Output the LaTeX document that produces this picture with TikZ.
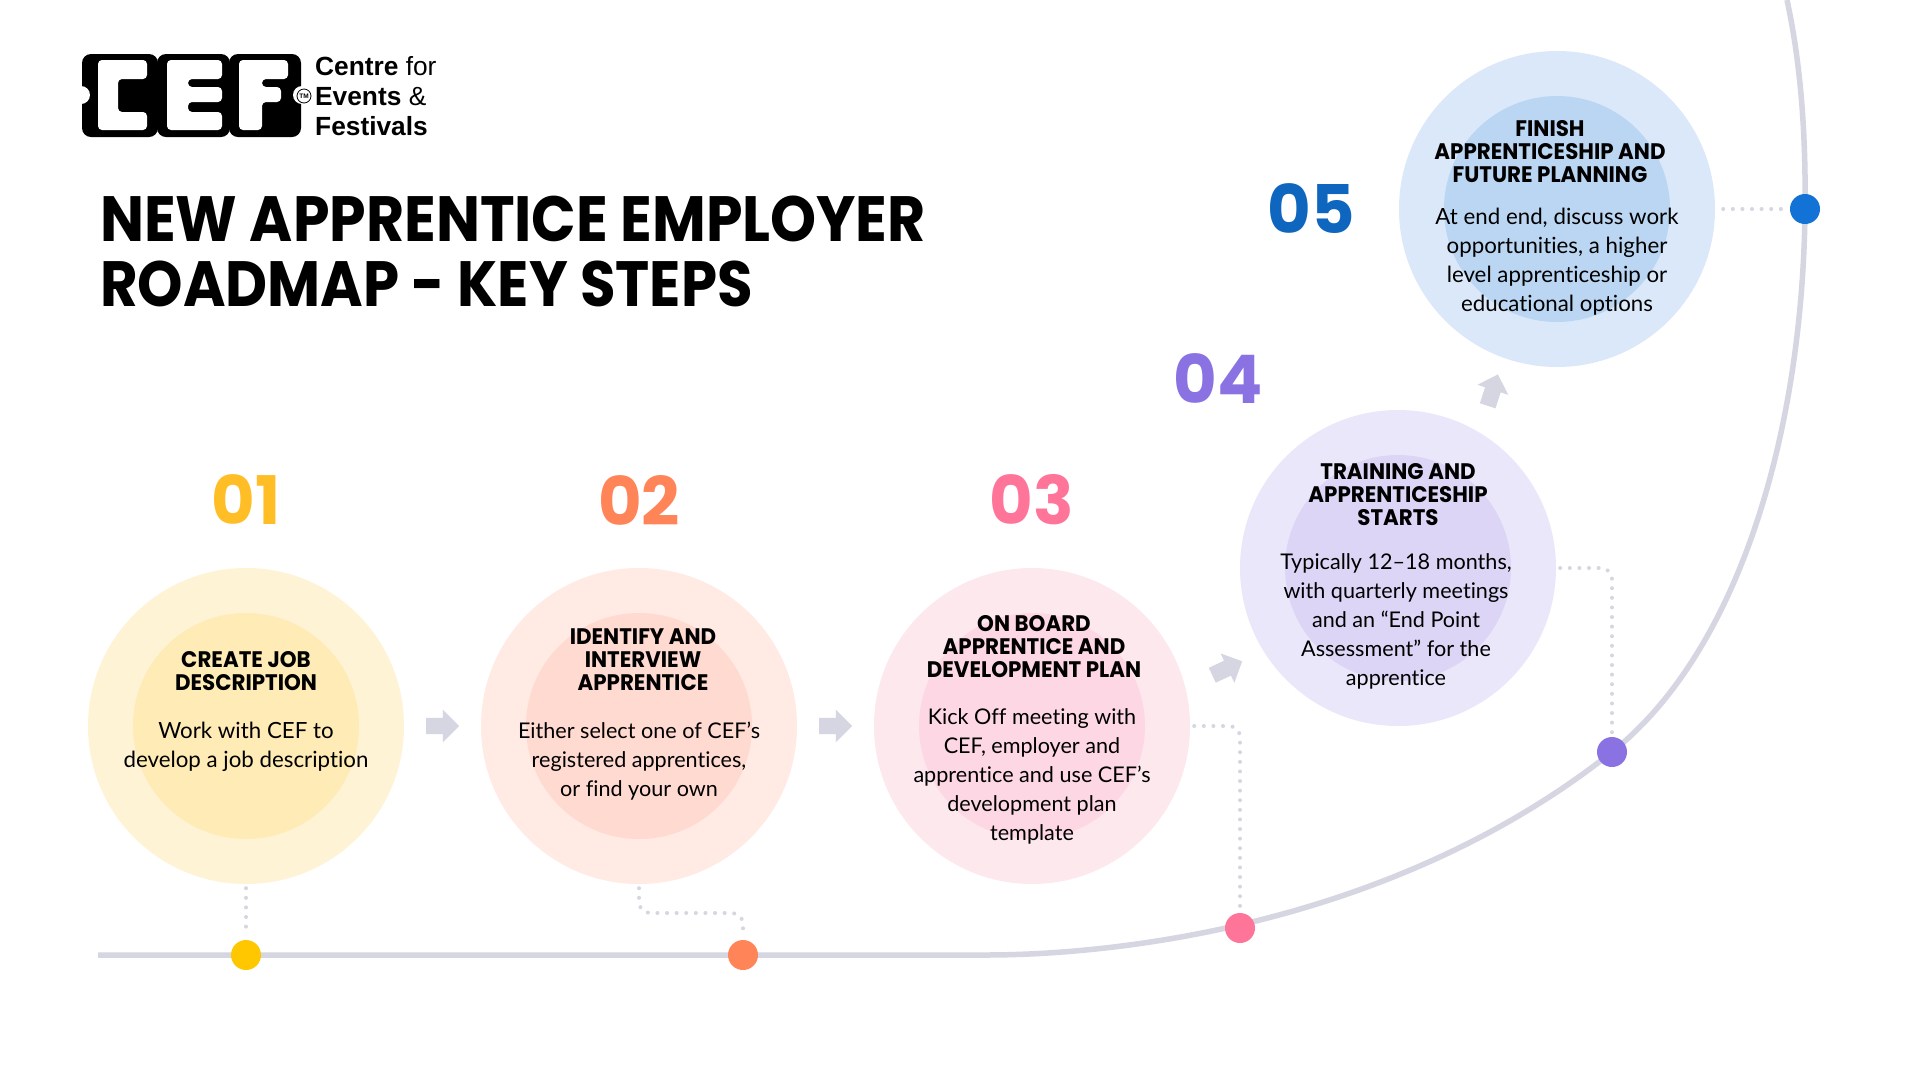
\documentclass[tikz,border=0pt]{standalone}
\usepackage{fontspec}
\usetikzlibrary{shapes.arrows}
\setmainfont{Lato}[Ligatures=NoCommon]
\newfontfamily\titlefont{Poppins}[FakeStretch=0.915]
\newfontfamily\titlefontb{Poppins}[FakeStretch=0.903]
\newfontfamily\numfont{Poppins}
\newfontfamily\headfont{Poppins}[FakeStretch=0.95]
\newfontfamily\logofont{Liberation Sans}
\definecolor{rail}{HTML}{D5D6E1}
\definecolor{yA}{HTML}{FEF3D5}\definecolor{yB}{HTML}{FEEBB5}\definecolor{yC}{HTML}{FFC700}\definecolor{yN}{HTML}{FFBE26}
\definecolor{oA}{HTML}{FFEAE4}\definecolor{oB}{HTML}{FFDAD0}\definecolor{oC}{HTML}{FF8558}
\definecolor{pA}{HTML}{FDE8EE}\definecolor{pB}{HTML}{FDD7E3}\definecolor{pC}{HTML}{FF7499}
\definecolor{vA}{HTML}{EBE7FA}\definecolor{vB}{HTML}{DCD5F5}\definecolor{vC}{HTML}{8A72E2}
\definecolor{bA}{HTML}{DBE8F9}\definecolor{bB}{HTML}{BBD6F2}\definecolor{bC}{HTML}{1372D6}\definecolor{bN}{HTML}{0E66BE}
\tikzset{
  x=1pt,y=-1pt,
  outercirc/.style={circle,minimum size=316pt,inner sep=0pt,fill=#1},
  innercirc/.style={circle,minimum size=226pt,inner sep=0pt,fill=#1},
  raildot/.style={circle,minimum size=30pt,inner sep=0pt,fill=#1},
  railline/.style={draw=rail,line width=5.5pt},
  dotted link/.style={draw=rail,line width=4pt,line cap=round,dash pattern=on 0pt off 9.6pt,rounded corners=11pt},
  headtext/.style={align=center,inner sep=0pt,font=\headfont\fontsize{22.5}{23}\selectfont\bfseries},
  bodytext/.style={align=center,inner sep=0pt,font=\fontsize{21.6}{29}\selectfont},
  bodywide/.style={align=center,inner sep=0pt,font=\fontsize{22.3}{29}\selectfont},
  numtext/.style={inner sep=0pt,font=\numfont\fontsize{67}{67}\selectfont\bfseries,text=#1},
  blockarrow/.style={single arrow,fill=rail,inner xsep=0pt,inner ysep=8pt,minimum height=33pt,single arrow head extend=8pt,single arrow tip angle=90,rotate=#1},
  titletext/.style={anchor=base west,inner sep=0pt,font=\titlefont\fontsize{64}{64}\selectfont\bfseries},
  titletextb/.style={anchor=base west,inner sep=0pt,font=\titlefontb\fontsize{64}{64}\selectfont\bfseries},
  logotext/.style={anchor=base west,inner sep=0pt,font=\logofont\fontsize{26.3}{30}\selectfont},
  logopart/.style={fill=black,rounded corners=9pt},
  logoletter/.style={fill=white,rounded corners=4pt},
}
\begin{document}
\begin{tikzpicture}
\useasboundingbox (0,0) rectangle (1920,1080);
\fill[white] (0,0) rectangle (1920,1080);
\coordinate (railstart) at (98,955);
\coordinate (railend) at (1787,0);
\node[outercirc=yA] (c1) at (246,726) {};
\node[innercirc=yB] (i1) at (246,726) {};
\node[outercirc=oA] (c2) at (639,726) {};
\node[innercirc=oB] (i2) at (639,726) {};
\node[outercirc=pA] (c3) at (1032,726) {};
\node[innercirc=pB] (i3) at (1032,726) {};
\node[outercirc=vA] (c4) at (1398,568) {};
\node[innercirc=vB] (i4) at (1398,568) {};
\node[outercirc=bA] (c5) at (1557,209) {};
\node[innercirc=bB] (i5) at (1557,209) {};
\path[railline] (railstart) -- (985,955) .. controls (1130,955) and (1400,920) .. (1612,752) .. controls (1740,650) and (1803,430) .. (1805,209) .. controls (1806,130) and (1800,60) .. (railend);
\node[raildot=yC] (d1) at (246,955) {};
\node[raildot=oC] (d2) at (743,955) {};
\node[raildot=pC] (d3) at (1240,928) {};
\node[raildot=vC] (d4) at (1612,752) {};
\node[raildot=bC] (d5) at (1805,209) {};
\path[dotted link] ([yshift=-4pt]c1.south) -- ([yshift=4pt]d1.north);
\path[dotted link] ([yshift=-4pt]c2.south) |- (743,913) -- ([yshift=4pt]d2.north);
\path[dotted link] ([xshift=4pt]c3.east) -| ([yshift=4pt]d3.north);
\path[dotted link] ([xshift=4pt]c4.east) -| ([yshift=4pt]d4.north);
\path[dotted link] ([xshift=8pt]c5.east) -- ([xshift=-2pt]d5.west);
\node[blockarrow=0] (a1) at (438.5,726) {};
\node[blockarrow=0] (a2) at (831.5,726) {};
\node[blockarrow=25] (a3) at (1223.5,670) {};
\node[blockarrow=72] (a4) at (1491.5,394) {};
\node[numtext=yN] (n1) at (246,500) {01};
\node[numtext=oC] (n2) at (639,500) {02};
\node[numtext=pC] (n3) at (1032,500) {03};
\node[numtext=vC] (n4) at (1218,379) {04};
\node[numtext=bN] (n5) at (1311,209) {05};
\node[headtext] (h1) at (246,671) {CREATE JOB\\DESCRIPTION};
\node[headtext] (h2) at (643,660) {IDENTIFY AND\\INTERVIEW\\APPRENTICE};
\node[headtext] (h3) at (1034,647) {ON BOARD\\APPRENTICE AND\\DEVELOPMENT PLAN};
\node[headtext] (h4) at (1398,495) {TRAINING AND\\APPRENTICESHIP\\STARTS};
\node[headtext] (h5) at (1550,152) {FINISH\\APPRENTICESHIP AND\\FUTURE PLANNING};
\node[bodywide] (b1) at (246,747) {Work with CEF to\\develop a job description};
\node[bodytext] (b2) at (639,761) {Either select one of CEF’s\\registered apprentices,\\or find your own};
\node[bodytext] (b3) at (1032,776) {Kick Off meeting with\\CEF, employer and\\apprentice and use CEF’s\\development plan\\template};
\node[bodytext] (b4) at (1396,621) {Typically 12–18 months,\\with quarterly meetings\\and an “End Point\\Assessment” for the\\apprentice};
\node[bodywide] (b5) at (1557,261.5) {At end end, discuss work\\opportunities, a higher\\level apprenticeship or\\educational options};
\node[titletext] (t1) at (100,241) {NEW APPRENTICE EMPLOYER};
\node[titletextb] (t2) at (100,306) {ROADMAP - KEY STEPS};
% logo
\fill[logopart] (82,54) rectangle (158,137);
\fill[logopart] (157,54) rectangle (230,137);
\fill[logopart] (229,54) rectangle (301,137);
\fill[white] (81,95) circle (9);
\fill[white] (302,95) circle (9);
\draw[black,line width=0.8pt,fill=white] (304,96) circle (7);
\node[inner sep=0pt,font=\logofont\fontsize{6.5}{7}\selectfont\bfseries] (tm) at (304,96) {TM};
\fill[logoletter] (98,60) -- (147,60) -- (147,79) -- (118,79) -- (118,112) -- (147,112) -- (147,130) -- (98,130) -- cycle;
\fill[logoletter] (167,60) -- (222,60) -- (222,79) -- (188,79) -- (188,87) -- (222,87) -- (222,102) -- (188,102) -- (188,112) -- (222,112) -- (222,130) -- (167,130) -- cycle;
\fill[logoletter] (239,60) -- (288,60) -- (288,79) -- (262,79) -- (262,87) -- (281,87) -- (281,102) -- (262,102) -- (262,130) -- (239,130) -- cycle;
\node[logotext] (lg1) at (315,75) {\textbf{Centre} for};
\node[logotext] (lg2) at (315,105) {\textbf{Events} \&};
\node[logotext] (lg3) at (315,135) {\textbf{Festivals}};
\end{tikzpicture}
\end{document}
